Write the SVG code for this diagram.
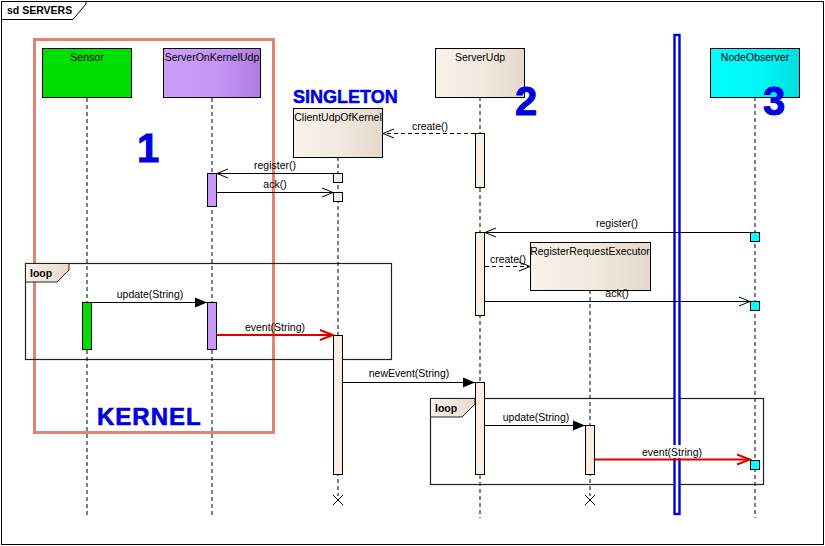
<svg xmlns="http://www.w3.org/2000/svg" width="825" height="546" viewBox="0 0 825 546">
<defs>
<style>
text{font-family:"Liberation Sans",Arial,sans-serif;font-size:10.5px;fill:#000}
.c{text-anchor:middle}
.b{font-weight:bold}
.big{font-weight:bold;fill:#0000E0;stroke:#0000E0;stroke-width:0.9}
.life{stroke:#000;stroke-width:1;stroke-dasharray:4,3;fill:none}
.msg{stroke:#000;stroke-width:1;fill:none}
.dash{stroke:#000;stroke-width:1;stroke-dasharray:4,3;fill:none}
.red{stroke:#E00000;stroke-width:2;fill:none}
.act{stroke:#000;stroke-width:1}
.box{stroke:#000;stroke-width:1}
</style>
<linearGradient id="gBeige" x1="0" y1="0" x2="1" y2="0"><stop offset="0" stop-color="#F8F2EA"/><stop offset="0.5" stop-color="#F2EAE0"/><stop offset="1" stop-color="#E4D8CA"/></linearGradient>
<linearGradient id="gPurple" x1="0" y1="0" x2="1" y2="0"><stop offset="0" stop-color="#CC9EF8"/><stop offset="0.6" stop-color="#C494F4"/><stop offset="1" stop-color="#AE7CE0"/></linearGradient>
<linearGradient id="gCyan" x1="0" y1="0" x2="1" y2="0"><stop offset="0" stop-color="#00FFFF"/><stop offset="0.6" stop-color="#00F6F6"/><stop offset="1" stop-color="#00DCDC"/></linearGradient>
<linearGradient id="gTab" x1="0" y1="0" x2="1" y2="0"><stop offset="0" stop-color="#F8F2EA"/><stop offset="1" stop-color="#E6DACB"/></linearGradient>
<marker id="open" markerWidth="14" markerHeight="12" refX="12" refY="6" orient="auto" markerUnits="userSpaceOnUse"><path d="M1,1.5 L12,6 L1,10.5" fill="none" stroke="#000" stroke-width="1"/></marker>
<marker id="fill" markerWidth="14" markerHeight="12" refX="12" refY="6" orient="auto" markerUnits="userSpaceOnUse"><path d="M0,1 L12,6 L0,11 z" fill="#000"/></marker>
<marker id="redopen" markerWidth="16" markerHeight="14" refX="14" refY="7" orient="auto" markerUnits="userSpaceOnUse"><path d="M1,2 L14,7 L1,12" fill="none" stroke="#E00000" stroke-width="2"/></marker>
</defs>

<rect x="0" y="0" width="825" height="546" fill="#fff"/>

<g id="frame">
<rect x="1.5" y="1.5" width="822" height="543" fill="none" stroke="#000" stroke-width="1"/>
<polygon points="1.5,1.5 86,1.5 86,4 73,19.5 1.5,19.5" fill="#fff" stroke="#000" stroke-width="1"/>
<text x="7" y="14" class="b">sd SERVERS</text>
</g>

<g id="kernel-box">
<rect x="34.5" y="39.5" width="239" height="393" fill="none" stroke="#DE8573" stroke-width="3"/>
</g>

<g id="loop1">
<rect x="25.5" y="263.5" width="366" height="96" fill="none" stroke="#222" stroke-width="1.2"/>
<polygon points="25.5,263.5 69,263.5 69,270 57,282 25.5,282" fill="url(#gTab)" stroke="#222" stroke-width="1"/>
<text x="30" y="277" class="b">loop</text>
</g>

<g id="loop2">
<rect x="430.5" y="398.5" width="333" height="86" fill="none" stroke="#222" stroke-width="1.2"/>
<polygon points="430.5,398.5 475,398.5 475,404 462,417 430.5,417" fill="url(#gTab)" stroke="#222" stroke-width="1"/>
<text x="435" y="412" class="b">loop</text>
</g>

<g id="lifelines">
<line class="life" x1="87" y1="98" x2="87" y2="518"/>
<line class="life" x1="212" y1="98" x2="212" y2="518"/>
<line class="life" x1="338" y1="157" x2="338" y2="496"/>
<line class="life" x1="480" y1="97" x2="480" y2="518"/>
<line class="life" x1="590" y1="290" x2="590" y2="496"/>
<line class="life" x1="755" y1="97" x2="755" y2="518"/>
</g>

<g id="separator">
<rect x="674.5" y="35" width="5" height="479" fill="#fff" stroke="#0000E0" stroke-width="2.4"/>
</g>

<g id="Sensor">
<rect class="box" x="42.5" y="48.5" width="89" height="49" fill="#00E000"/>
<text x="87" y="61" class="c">Sensor</text>
<rect class="act" x="82.5" y="302.5" width="9" height="47" fill="#00E000"/>
</g>

<g id="ServerOnKernelUdp">
<rect class="box" x="163.5" y="48.5" width="97" height="49" fill="url(#gPurple)"/>
<text x="212" y="61" class="c">ServerOnKernelUdp</text>
<rect class="act" x="207.5" y="173.5" width="9" height="33" fill="#C898F8"/>
<rect class="act" x="207.5" y="302.5" width="9" height="47" fill="#C898F8"/>
</g>

<g id="ClientUdpOfKernel">
<rect class="box" x="293.5" y="108.5" width="89" height="49" fill="url(#gBeige)"/>
<text x="338" y="121" class="c">ClientUdpOfKernel</text>
<rect class="act" x="333.5" y="173.5" width="9" height="9" fill="#F8EEE4"/>
<rect class="act" x="333.5" y="192.5" width="9" height="9" fill="#F8EEE4"/>
<rect class="act" x="333.5" y="335.5" width="9" height="139" fill="#F8EEE4"/>
<path d="M333,495 L343,505 M343,495 L333,505" stroke="#000" stroke-width="1"/>
</g>

<g id="ServerUdp">
<rect class="box" x="435.5" y="48.5" width="89" height="49" fill="url(#gBeige)"/>
<text x="480" y="61" class="c">ServerUdp</text>
<rect class="act" x="475.5" y="133.5" width="9" height="54" fill="#F8EEE4"/>
<rect class="act" x="475.5" y="232.5" width="9" height="83" fill="#F8EEE4"/>
<rect class="act" x="475.5" y="382.5" width="9" height="92" fill="#F8EEE4"/>
</g>

<g id="RegisterRequestExecutor">
<rect class="box" x="530.5" y="242.5" width="120" height="48" fill="url(#gBeige)"/>
<text x="590" y="255" class="c">RegisterRequestExecutor</text>
<rect class="act" x="585.5" y="425.5" width="9" height="49" fill="#F8EEE4"/>
<path d="M585,495 L595,505 M595,495 L585,505" stroke="#000" stroke-width="1"/>
</g>

<g id="NodeObserver">
<rect class="box" x="710.5" y="48.5" width="89" height="49" fill="url(#gCyan)"/>
<text x="755" y="61" class="c">NodeObserver</text>
<rect class="act" x="750.5" y="232.5" width="9" height="9" fill="#00FFFF"/>
<rect class="act" x="750.5" y="301.5" width="9" height="9" fill="#00FFFF"/>
<rect class="act" x="750.5" y="460.5" width="9" height="9" fill="#00FFFF"/>
</g>

<g id="connectors">
<line class="dash" x1="475" y1="133.5" x2="383" y2="133.5" marker-end="url(#open)"/>
<line class="msg" x1="333" y1="173.5" x2="217" y2="173.5" marker-end="url(#open)"/>
<line class="msg" x1="217" y1="192.5" x2="333" y2="192.5" marker-end="url(#open)"/>
<line class="msg" x1="750" y1="232.5" x2="485" y2="232.5" marker-end="url(#open)"/>
<line class="dash" x1="485" y1="266.5" x2="530" y2="266.5" marker-end="url(#open)"/>
<line class="msg" x1="485" y1="301.5" x2="750" y2="301.5" marker-end="url(#open)"/>
<line class="msg" x1="92" y1="302.5" x2="207" y2="302.5" marker-end="url(#fill)"/>
<line class="red" x1="217" y1="335" x2="333" y2="335" marker-end="url(#redopen)"/>
<line class="msg" x1="343" y1="382.5" x2="475" y2="382.5" marker-end="url(#fill)"/>
<line class="msg" x1="485" y1="425.5" x2="585" y2="425.5" marker-end="url(#fill)"/>
<rect x="641" y="445" width="62" height="13" fill="#fff"/>
<line class="red" x1="595" y1="459.5" x2="750" y2="459.5" marker-end="url(#redopen)"/>
</g>

<g id="labels">
<text x="430" y="130" class="c">create()</text>
<text x="275" y="169" class="c">register()</text>
<text x="275" y="188" class="c">ack()</text>
<text x="617" y="227" class="c">register()</text>
<text x="508" y="263" class="c">create()</text>
<text x="617" y="297" class="c">ack()</text>
<text x="150" y="298" class="c">update(String)</text>
<text x="275" y="331" class="c">event(String)</text>
<text x="409" y="377" class="c">newEvent(String)</text>
<text x="536" y="421" class="c">update(String)</text>
<text x="672" y="456" class="c">event(String)</text>
</g>

<g id="annotations">
<text x="148" y="162" class="big c" style="font-size:40px">1</text>
<text x="526" y="115" class="big c" style="font-size:40px">2</text>
<text x="774" y="115" class="big c" style="font-size:40px">3</text>
<text x="293" y="103" class="big" style="font-size:18px;stroke-width:0.5">SINGLETON</text>
<text x="97" y="425" class="big" style="font-size:24px;letter-spacing:1px;stroke-width:0.6">KERNEL</text>
</g>
</svg>
